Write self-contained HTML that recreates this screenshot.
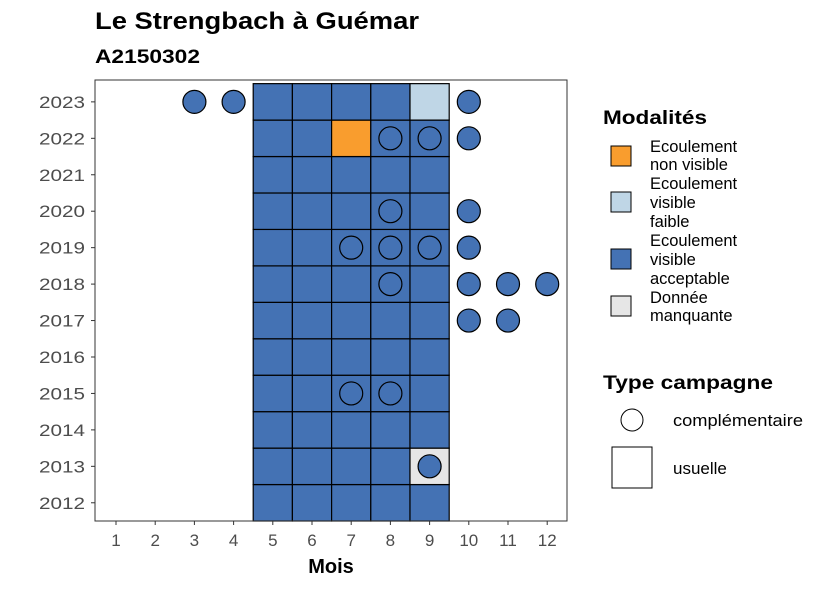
<!DOCTYPE html>
<html><head><meta charset="utf-8"><style>
body{margin:0;background:#fff;font-family:"Liberation Sans",Arial,sans-serif}
svg text{font-family:"Liberation Sans",Arial,sans-serif}
</style></head><body>
<svg id="c" width="826" height="590" viewBox="0 0 826 590">
<text x="95" y="29" font-size="24" font-weight="bold" textLength="324" lengthAdjust="spacingAndGlyphs">Le Strengbach à Guémar</text>
<text x="95" y="63" font-size="19" font-weight="bold" textLength="105" lengthAdjust="spacingAndGlyphs">A2150302</text>
<g id="plot"></g>
<text x="331" y="573" font-size="20" font-weight="bold" text-anchor="middle">Mois</text>
<g>
<text x="603" y="124" font-size="19.5" font-weight="bold" textLength="104" lengthAdjust="spacingAndGlyphs">Modalités</text>
<rect x="611" y="146" width="20" height="20" fill="#f99d2e" stroke="#000"/>
<text font-size="16.5"><tspan x="650" y="152">Ecoulement</tspan><tspan x="650" y="170">non visible</tspan></text>
<rect x="611" y="192" width="20" height="20" fill="#bfd6e6" stroke="#000"/>
<text font-size="16.5"><tspan x="650" y="189">Ecoulement</tspan><tspan x="650" y="208">visible</tspan><tspan x="650" y="227">faible</tspan></text>
<rect x="611" y="249" width="20" height="20" fill="#4472b4" stroke="#000"/>
<text font-size="16.5"><tspan x="650" y="246">Ecoulement</tspan><tspan x="650" y="265">visible</tspan><tspan x="650" y="284">acceptable</tspan></text>
<rect x="611" y="296" width="20" height="20" fill="#e6e6e6" stroke="#000"/>
<text font-size="16.5"><tspan x="650" y="303">Donnée</tspan><tspan x="650" y="321">manquante</tspan></text>
</g>
<g>
<text x="603" y="389" font-size="19.5" font-weight="bold" textLength="170" lengthAdjust="spacingAndGlyphs">Type campagne</text>
<circle cx="632" cy="420" r="11" fill="#fff" stroke="#000"/>
<text x="673" y="426" font-size="17" textLength="130" lengthAdjust="spacingAndGlyphs">complémentaire</text>
<rect x="612" y="447" width="40" height="41" fill="#fff" stroke="#000"/>
<text x="673" y="474" font-size="17">usuelle</text>
</g>
</svg>
<script>
const months=[1,2,3,4,5,6,7,8,9,10,11,12];
const years=[2012,2013,2014,2015,2016,2017,2018,2019,2020,2021,2022,2023];
const tileMonths=[5,6,7,8,9];
const specialTiles=[[2022,7,"non visible"],[2023,9,"faible"],[2013,9,"manquante"]];
const circlePoints=[[2023,3],[2023,4],[2023,10],[2022,8],[2022,9],[2022,10],[2020,8],[2020,10],[2019,7],[2019,8],[2019,9],[2019,10],[2018,8],[2018,10],[2018,11],[2018,12],[2017,10],[2017,11],[2015,7],[2015,8],[2013,9]];
const colors={"acceptable":"#4472b4","non visible":"#f99d2e","faible":"#bfd6e6","manquante":"#e6e6e6"};
const L=95,R=567,T=80,B=521;
const dx=39.2;
const x=m=>116+(m-1)*dx;
const dy=(B-T)/12.1;
const y=yr=>B-0.5*dy-(yr-2012)*dy;
const g=document.getElementById('plot');
const NS='http://www.w3.org/2000/svg';
function mk(t,a){const e=document.createElementNS(NS,t);for(const k in a)e.setAttribute(k,a[k]);g.appendChild(e);return e;}
const bg=mk('rect',{x:L,y:T,width:R-L,height:B-T,fill:'#fff',stroke:'none'});


for(const yr of years)for(const m of tileMonths){
 const s=specialTiles.find(t=>t[0]===yr&&t[1]===m);
 const mod=s?s[2]:"acceptable";
 const r=mk('rect',{x:x(m)-dx/2,y:y(yr)-dy/2,width:dx,height:dy,fill:colors[mod],stroke:'#000','stroke-width':1.2});
 
 
}
for(const p of circlePoints){
 const c=mk('circle',{cx:x(p[1]),cy:y(p[0]),r:11.5,fill:colors["acceptable"],stroke:'#000','stroke-width':1.2});
 
 
}
const fr=mk('rect',{x:L,y:T,width:R-L,height:B-T,fill:'none',stroke:'#333','stroke-width':1});


for(const m of months){
 mk('line',{x1:x(m),x2:x(m),y1:B,y2:B+4,stroke:'#333'});
 const t=mk('text',{x:x(m),y:B+25,'font-size':17,'text-anchor':'middle',fill:'#4d4d4d'});
 t.textContent=m;
 
 
}
for(const yr of years){
 mk('line',{x1:L-4,x2:L,y1:y(yr),y2:y(yr),stroke:'#333'});
 const t=mk('text',{x:L-10,y:y(yr)+6,'font-size':17,'text-anchor':'end',fill:'#4d4d4d',textLength:46,lengthAdjust:'spacingAndGlyphs'});
 t.textContent=yr;
 
 
}
</script>
</body></html>
